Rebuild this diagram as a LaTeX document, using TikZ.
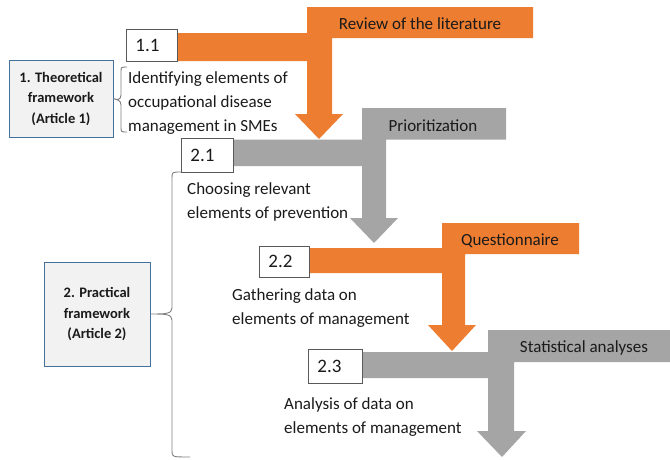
\documentclass[tikz,border=0pt]{standalone}
\usepackage{fontspec}
\setmainfont{Carlito}
\definecolor{orangeA}{HTML}{ED7D31}
\definecolor{grayA}{HTML}{A5A5A5}
\definecolor{boxblue}{HTML}{41719C}
\definecolor{boxfill}{HTML}{F2F2F2}
\definecolor{numline}{HTML}{595959}
\definecolor{bracegray}{HTML}{7F7F7F}
\definecolor{txt}{HTML}{1A1A1A}
\begin{document}
\begin{tikzpicture}[x=1pt,y=-1pt,
  numbox/.style={draw=numline, line width=0.8pt, fill=white, anchor=north west,
    font=\fontsize{19}{22}\selectfont, inner xsep=9pt, inner ysep=0pt, align=left, text=txt},
  body/.style={anchor=north west, inner sep=0pt, align=left,
    font=\fontsize{17}{24}\selectfont, text=txt},
  banner/.style={anchor=base, inner sep=0pt, font=\fontsize{17}{20}\selectfont, text=txt},
  framebox/.style={draw=boxblue, line width=0.9pt, fill=boxfill, align=center,
    font=\fontsize{14.5}{20.5}\selectfont\bfseries, text=txt, inner sep=2pt},
  bracepath/.style={draw=bracegray, line width=0.9pt},
  orangearrow/.style={fill=orangeA},
  grayarrow/.style={fill=grayA}
]
\useasboundingbox (0,0) rectangle (670,459);

% ---- bent arrows ----
\path[orangearrow] (177,33) -- (307,33) -- (307,7) -- (533,7) -- (533,38) -- (332,38)
  -- (332,114) -- (343,114) -- (319,139) -- (295,114) -- (307,114) -- (307,61) -- (177,61) -- cycle;
\path[grayarrow] (233,139.5) -- (362,139.5) -- (362,108) -- (506,108) -- (506,139.5) -- (386,139.5)
  -- (386,218) -- (398,218) -- (374,243) -- (350,218) -- (362,218) -- (362,166) -- (233,166) -- cycle;
\path[orangearrow] (309,248) -- (442,248) -- (442,223) -- (579,223) -- (579,254) -- (465,254)
  -- (465,325) -- (476,325) -- (452,351) -- (428,325) -- (442,325) -- (442,273) -- (309,273) -- cycle;
\path[grayarrow] (362,352) -- (488,352) -- (488,330) -- (670,330) -- (670,362) -- (514,362)
  -- (514,431) -- (526,431) -- (502,457) -- (477,431) -- (488,431) -- (488,378) -- (362,378) -- cycle;

\node[banner] (lit) at (420,29) {Review of the literature};
\node[banner] (prio) at (433,131) {Prioritization};
\node[banner] (quest) at (510,245) {Questionnaire};
\node[banner] (stat) at (584,352) {Statistical analyses};

% ---- numbered boxes ----
\node[numbox, text width=33pt, minimum height=32pt] (n11) at (126,29) {1.1};
\node[numbox, text width=34pt, minimum height=34pt] (n21) at (181,138) {2.1};
\node[numbox, text width=32pt, minimum height=31pt] (n22) at (259,246) {2.2};
\node[numbox, text width=36pt, minimum height=34pt] (n23) at (308,349) {2.3};

% ---- descriptions ----
\node[body] (t11) at (128,66.2) {\strut Identifying elements of\\occupational disease\\management in SMEs};
\node[body] (t21) at (187,177.2) {\strut Choosing relevant\\elements of prevention};
\node[body] (t22) at (232,283.2) {\strut Gathering data on\\elements of management};
\node[body] (t23) at (284,392.2) {\strut Analysis of data on\\elements of management};

% ---- frameworks ----
\node[framebox, minimum width=104pt, minimum height=77pt] (fw1) at (61,98.5)
  {1. Theoretical\\framework\\(Article 1)};
\node[framebox, minimum width=106pt, minimum height=104pt] (fw2) at (97,314)
  {2. Practical\\framework\\(Article 2)};

% ---- braces ----
\draw[bracepath] (127,67) .. controls (121,67) .. (121,72) -- (121,95)
  .. controls (121,100) and (117,100) .. (fw1.east)
  .. controls (117,100) and (121,100) .. (121,105) -- (121,127)
  .. controls (121,132) .. (127,132);
\draw[bracepath] (181,172) .. controls (172,172) .. (172,178) -- (172,308)
  .. controls (172,314) and (165,314) .. (fw2.east)
  .. controls (165,314) and (172,314) .. (172,320) -- (172,451)
  .. controls (172,457) .. (190,457);
\end{tikzpicture}
\end{document}
